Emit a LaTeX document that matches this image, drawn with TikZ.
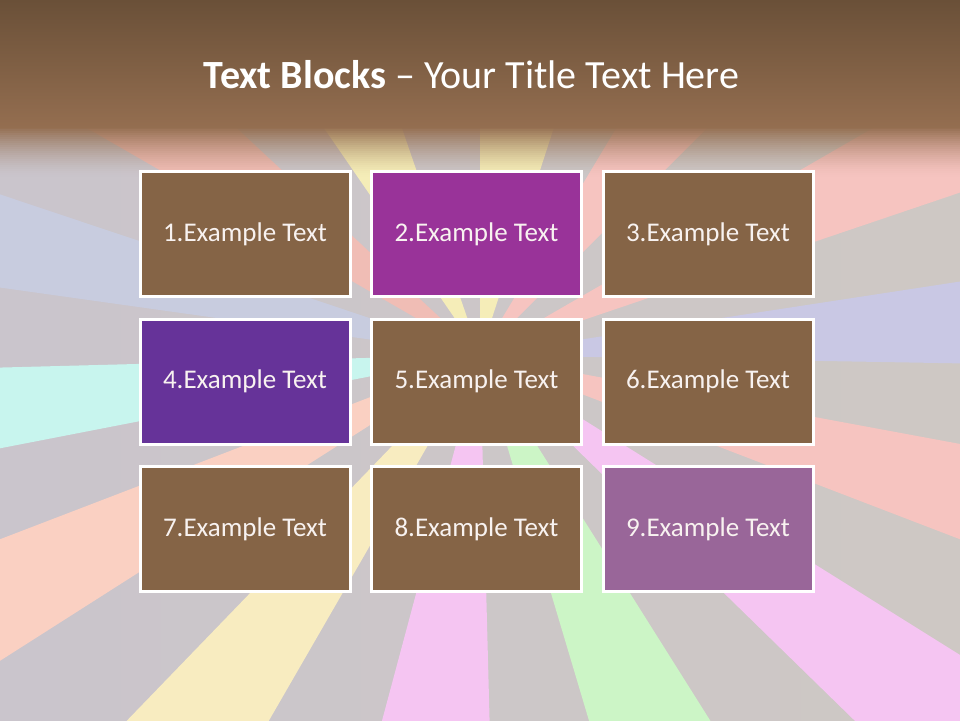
\documentclass[tikz,border=0pt]{standalone}
\usepackage{fontspec}
\setmainfont{Carlito}
\definecolor{bgL}{HTML}{CAC5CC}
\definecolor{bgR}{HTML}{CEC8C4}
\definecolor{rLav}{HTML}{C9C8E4}
\definecolor{rSal}{HTML}{F6C4C0}
\definecolor{rSalL}{HTML}{F0BDB5}
\definecolor{rYel}{HTML}{F5EDB8}
\definecolor{rBlue}{HTML}{C8CCDF}
\definecolor{rCyan}{HTML}{C8F5EE}
\definecolor{rPeach}{HTML}{FAD0C2}
\definecolor{rYelB}{HTML}{F8ECC0}
\definecolor{rPink}{HTML}{F5C5F2}
\definecolor{rGreen}{HTML}{CCF5C6}
\definecolor{hdrT}{HTML}{6A5038}
\definecolor{hdrB}{HTML}{946E50}
\definecolor{bxBrown}{HTML}{856446}
\definecolor{bxMag}{HTML}{993399}
\definecolor{bxPur}{HTML}{663399}
\definecolor{bxMauve}{HTML}{996699}
\definecolor{boxtext}{HTML}{F8F2F0}
\begin{document}
\begin{tikzpicture}[x=1pt,y=1pt,
  box/.style={draw=white, line width=3pt, minimum width=210pt, minimum height=125pt,
    inner sep=0pt, text=boxtext, font=\fontsize{27}{30}\selectfont}]
\useasboundingbox (0,0) rectangle (960,-720);
\begin{scope}
\clip (0,0) rectangle (960,-720);
\shade[left color=bgL, right color=bgR] (0,0) rectangle (960,-720);
\coordinate (C) at (480,-355);
\foreach \a/\b/\c in {-1/8.7/rLav, 18.7/30/rSal, 45/59/rSal, 72/90/rYel,
    109/124.5/rYel, 137/150/rSalL, 161.5/172/rBlue, 181.5/191/rCyan,
    201/212.5/rPeach, 226/240/rYelB, 255/271.5/rPink, 286.6/302.2/rGreen,
    315.7/328/rPink, 339/349.5/rSal}{
  \fill[\c] (C) -- +(\a:1300) -- +(\b:1300) -- cycle;
}
\shade[top color=hdrT, bottom color=hdrB] (0,0) rectangle (960,-127.5);
\foreach \i in {0,...,24}{
  \pgfmathsetmacro\op{(1-(\i+0.5)/25)*sqrt(1-(\i+0.5)/25)}
  \fill[hdrB, fill opacity=\op] (0,{-127-2*\i}) rectangle (960,{-129-2*\i});
}
\end{scope}
\node[anchor=base, text=white, font=\fontsize{40}{44}\selectfont] (title) at (471.5,-88)
  {\textbf{Text Blocks} – Your Title Text Here};
\node[box, fill=bxBrown] (b1) at (245,-234) {1.Example Text};
\node[box, fill=bxMag]   (b2) at (476.5,-234) {2.Example Text};
\node[box, fill=bxBrown] (b3) at (708,-234) {3.Example Text};
\node[box, fill=bxPur]   (b4) at (245,-381.5) {4.Example Text};
\node[box, fill=bxBrown] (b5) at (476.5,-381.5) {5.Example Text};
\node[box, fill=bxBrown] (b6) at (708,-381.5) {6.Example Text};
\node[box, fill=bxBrown] (b7) at (245,-529) {7.Example Text};
\node[box, fill=bxBrown] (b8) at (476.5,-529) {8.Example Text};
\node[box, fill=bxMauve] (b9) at (708,-529) {9.Example Text};
\end{tikzpicture}
\end{document}
